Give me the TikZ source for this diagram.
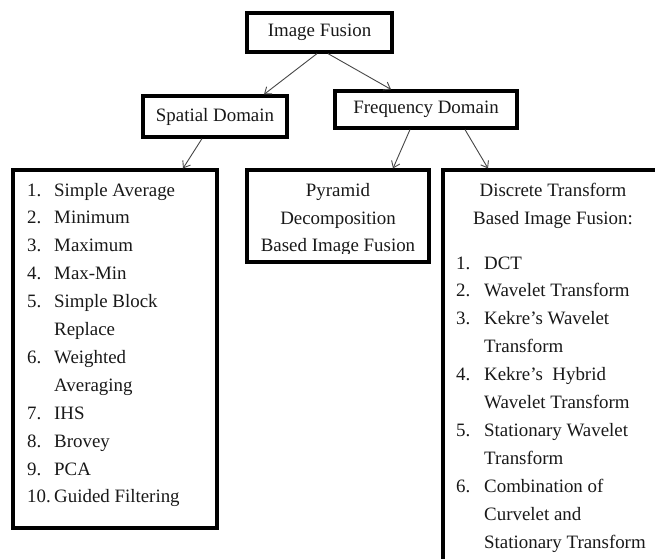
\documentclass[tikz,border=0pt]{standalone}
\usepackage{fontspec}
\setmainfont{Liberation Serif}
\usetikzlibrary{arrows.meta}
\begin{document}
\begin{tikzpicture}[x=1pt,y=-1pt,
  box/.style={draw=black,line width=3.2pt,inner sep=0pt,fill=white},
  arr/.style={draw=black!72,line width=0.9pt,-{Straight Barb[length=6pt,width=9pt]}},
  txt/.style={inner sep=0pt,text=black!90,font=\fontsize{18.9}{27.9}\selectfont},
  lbl/.style={txt,anchor=base west},
  ctr/.style={txt,anchor=base}]
\useasboundingbox (0,0) rectangle (655,558);
\clip (0,0) rectangle (655,558);
\fill[white] (0,0) rectangle (655,558);
% boxes
\node[box,txt,minimum width=145pt,minimum height=39pt] (if) at (319.5,32.5) {Image Fusion};
\node[box,txt,minimum width=144pt,minimum height=41pt] (sd) at (215,116.5) {Spatial Domain};
\node[box,txt,minimum width=182pt,minimum height=37pt] (fd) at (426,109.5) {Frequency Domain};
\node[box,minimum width=204pt,minimum height=358pt] (sl) at (115,349) {};
\node[box,minimum width=182pt,minimum height=92pt] (py) at (338,216) {};
\node[box,minimum width=227pt,minimum height=410pt] (dt) at (556.5,375) {};
% connectors
\draw[arr] ([xshift=-2.5pt]if.south) -- ([xshift=49pt]sd.north);
\draw[arr] ([xshift=8.5pt]if.south) -- ([xshift=-35pt]fd.north);
\draw[arr] ([xshift=-13pt]sd.south) -- ([xshift=68pt]sl.north);
\draw[arr] ([xshift=-16pt]fd.south) -- ([xshift=55pt]py.north);
\draw[arr] ([xshift=39pt]fd.south) -- ([xshift=-68.5pt]dt.north);
% spatial list
\foreach \r/\n in {0/1.,1/2.,2/3.,3/4.,4/5.,6/6.,8/7.,9/8.,10/9.,11/10.}
  \node[lbl] (sn\r) at (27,196+27.9*\r) {\n};
\foreach \r/\t in {0/Simple Average,1/Minimum,2/Maximum,3/Max-Min,4/Simple Block,5/Replace,6/Weighted,7/Averaging,8/IHS,9/Brovey,10/PCA,11/Guided Filtering}
  \node[lbl] (st\r) at (54,196+27.9*\r) {\t};
% pyramid text
\begin{scope}
\clip (247,170) rectangle (429,253);
\node[ctr] (p1) at (338,196) {Pyramid};
\node[ctr] (p2) at (338,224) {Decomposition};
\node[ctr] (p3) at (338,251) {Based Image Fusion};
\end{scope}
% discrete transform text
\node[ctr] (d1) at (553,196) {Discrete Transform};
\node[ctr] (d2) at (553,224) {Based Image Fusion:};
\foreach \r/\n in {0/1.,1/2.,2/3.,4/4.,6/5.,8/6.}
  \node[lbl] (dn\r) at (456,269+27.9*\r) {\n};
\foreach \r/\t in {0/DCT,1/Wavelet Transform,2/Kekre’s Wavelet,3/Transform,4/Kekre’s\ \ Hybrid,5/Wavelet Transform,6/Stationary Wavelet,7/Transform,8/Combination of,9/Curvelet and,10/Stationary Transform}
  \node[lbl] (dt\r) at (484,269+27.9*\r) {\t};
\end{tikzpicture}
\end{document}
